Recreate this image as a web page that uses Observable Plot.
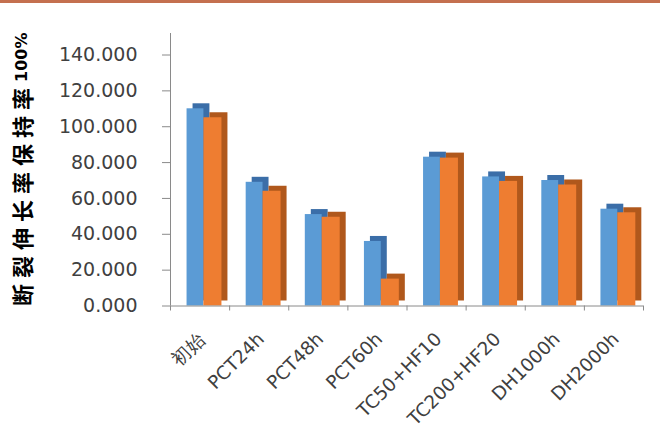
<!DOCTYPE html>
<html><head><meta charset="utf-8">
<script src="https://cdn.jsdelivr.net/npm/d3@7"></script>
<script src="https://cdn.jsdelivr.net/npm/@observablehq/plot@0.6"></script>
<style>
html,body{margin:0;padding:0;background:#fff;}
#chart{width:660px;height:431px;border-top:3px solid #c4704f;}
</style></head><body><div id="chart"></div>
<script>
const categories = ["初始","PCT24h","PCT48h","PCT60h","TC50+HF10","TC200+HF20","DH1000h","DH2000h"];
const series1 = [110, 69, 51, 36, 83, 72, 70, 54];
const series2 = [105, 64, 49.5, 15, 82.5, 69.5, 67.5, 52];
const yTicks = [0,20,40,60,80,100,120,140];
const yTitle = "断裂伸长率保持率";
const yTitleUnit = "100%";

const rows = categories.map((c, i) => ({i, c, a: series1[i], b: series2[i]}));
const blue = "#5b9bd5", blueDark = "#3b6ea8", orange = "#ee7d31", orangeDark = "#b0581c";
const depth = {dx: 6, dy: -5};

const plot = Plot.plot({
  width: 660, height: 431,
  marginLeft: 170, marginRight: 17, marginTop: 30, marginBottom: 128.5,
  style: {fontFamily: "DejaVu Sans", background: "#fff"},
  x: {type: "linear", domain: [0, categories.length], axis: null},
  y: {domain: [0, 152]},
  marks: [
    Plot.rect(rows, {x1: d => d.i + 0.28, x2: d => d.i + 0.565, y1: 0, y2: "a", fill: blueDark, ...depth}),
    Plot.rect(rows, {x1: d => d.i + 0.28, x2: d => d.i + 0.565, y1: 0, y2: "a", fill: blue}),
    Plot.rect(rows, {x1: d => d.i + 0.565, x2: d => d.i + 0.87, y1: 0, y2: "b", fill: orangeDark, ...depth}),
    Plot.rect(rows, {x1: d => d.i + 0.565, x2: d => d.i + 0.87, y1: 0, y2: "b", fill: orange}),
    Plot.ruleY([0], {stroke: "#8a8a8a"}),
    Plot.ruleX([0], {stroke: "#8a8a8a"}),
    Plot.axisX({ticks: d3.range(categories.length + 1), tickFormat: () => "", tickSize: 5, stroke: "#8a8a8a", label: null}),
    Plot.text(rows, {x: d => d.i + 0.5, y: 0, text: "c", rotate: -45, textAnchor: "end", lineAnchor: "middle",
      dx: 2, dy: 30, fontSize: 18.5, fill: "#404040"}),
    Plot.axisY({ticks: yTicks, tickFormat: d => d.toFixed(3), tickSize: 8, tickPadding: 25, fontSize: 19,
      fill: "#404040", stroke: "#8a8a8a", label: null})
  ]
});
document.getElementById("chart").appendChild(plot);

const svg = d3.select(plot);
const t = svg.append("text")
  .attr("transform", "translate(21,303) rotate(-90)")
  .attr("text-anchor", "start")
  .attr("dominant-baseline", "central")
  .attr("fill", "#000")
  .attr("font-weight", "bold");
t.append("tspan").attr("font-family", "'Noto Sans CJK SC'").attr("font-size", 22).attr("letter-spacing", "6px").text(yTitle);
t.append("tspan").attr("font-family", "'DejaVu Sans'").attr("font-size", 16).text(yTitleUnit);
</script></body></html>
